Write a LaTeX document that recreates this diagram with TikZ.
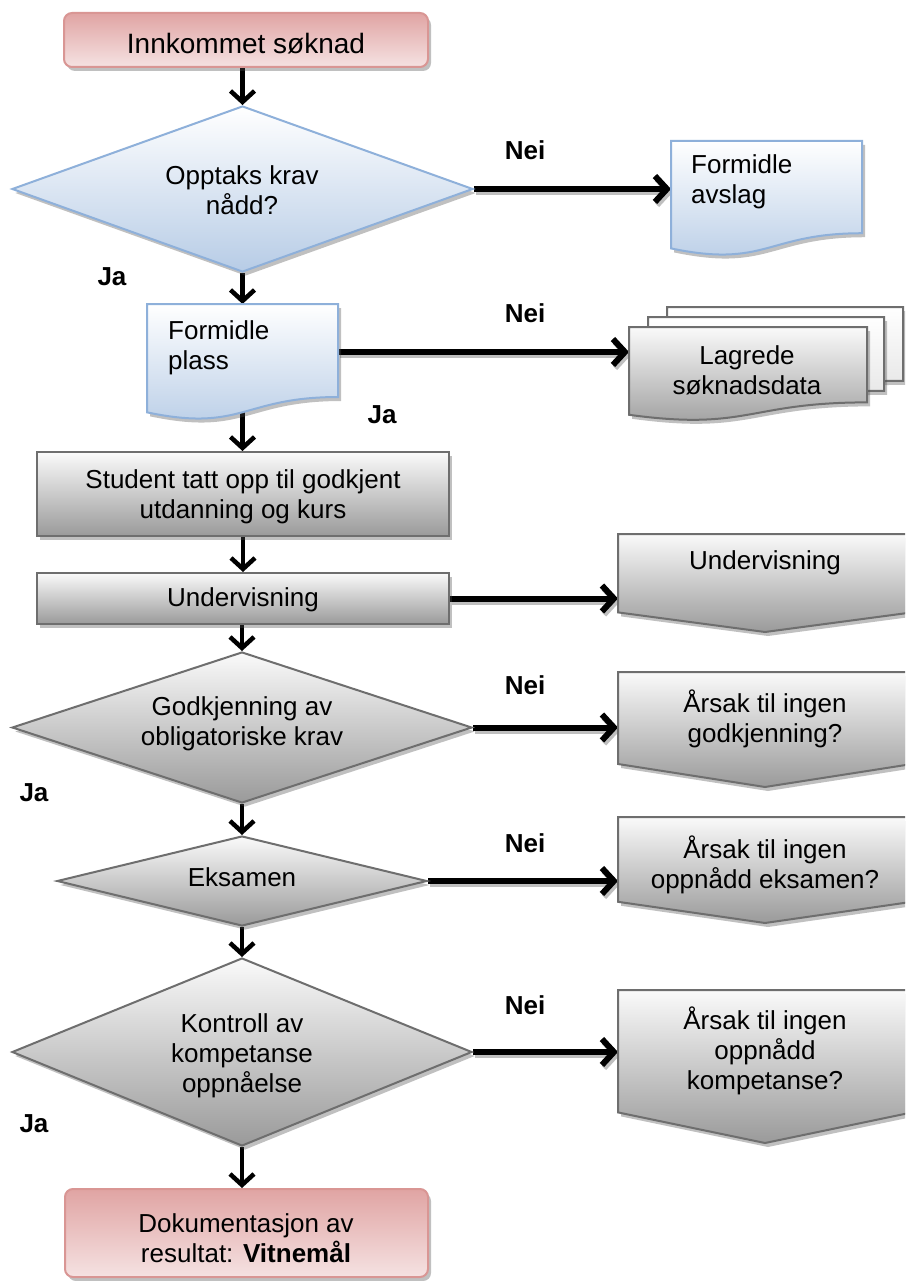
\documentclass[tikz,border=0pt]{standalone}
\usepackage{fontspec}
\setmainfont{Liberation Sans}
\usetikzlibrary{shapes.geometric,arrows.meta,shadows,calc}
\pgfdeclarelayer{bg}
\pgfsetlayers{bg,main}
\definecolor{pinkB}{HTML}{D99694}
\definecolor{pinkT}{HTML}{E0A4A3}
\definecolor{pinkL}{HTML}{F5E2E2}
\definecolor{blueB}{HTML}{8EB0DA}
\definecolor{blueL}{HTML}{B7CCE6}
\definecolor{grayB}{HTML}{6E6E6E}
\definecolor{grayD}{HTML}{9A9A9A}
\definecolor{grayT}{HTML}{FAFAFA}
% document shape: style, x, y, w, h
\newcommand\mydoc[5]{%
  \path[#1] (#2,#3) -- ++(#4,0) -- ++(0,{0.802*#5})
    .. controls +({-0.5*#4},0) and +({0.5*#4},{0.1735*#5}) .. (#2,{#3+0.934*#5}) -- cycle;}
% off-page connector: style, x, y, w, h
\newcommand\myoff[5]{%
  \path[#1] (#2,#3) -- ++(#4,0) -- ++(0,{0.8*#5}) -- ++({-0.5*#4},{0.2*#5}) -- ++({-0.5*#4},{-0.2*#5}) -- cycle;}
\begin{document}
\begin{tikzpicture}[x=1pt,y=-1pt,
  shadowed/.style={drop shadow={shadow xshift=3pt,shadow yshift=-4pt,opacity=.35,fill=black!70}},
  termshape/.style={rectangle, rounded corners=8pt, draw=pinkB, line width=2pt, top color=pinkT, bottom color=pinkL, shadowed, inner sep=0pt},
  blueshape/.style={draw=blueB, line width=2pt, top color=white, bottom color=blueL, shadowed},
  grayshape/.style={draw=grayB, line width=2pt, top color=grayT, bottom color=grayD, shadowed},
  backdoc/.style={draw=grayB, line width=2pt, top color=white, bottom color=black!12, shadowed},
  box/.style={rectangle, inner sep=0pt, outer sep=0pt},
  txt/.style={font=\fontsize{26}{30}\selectfont, align=center, inner sep=0pt},
  lbl/.style={font=\fontsize{26}{30}\selectfont\bfseries, inner sep=0pt},
  vconn/.style={line width=4.5pt, -{Straight Barb[length=11pt,width=24pt]}},
  hconn/.style={line width=6pt, -{Straight Barb[length=12pt,width=26pt]},
    preaction={draw=black, opacity=.25, line width=6pt, -{Straight Barb[length=12pt,width=26pt]},
      transform canvas={xshift=2pt,yshift=-3pt}}}
]
\path[use as bounding box, clip] (0,0) rectangle (905,1281);

% start terminal
\node[termshape, minimum width=364pt, minimum height=54pt] (term1) at (246,40) {};
\node[txt, font=\fontsize{28}{32}\selectfont] (t1) at (246,44) {Innkommet søknad};

% decision 1
\node[diamond, blueshape, minimum width=461pt, minimum height=166pt, inner sep=0pt] (d1) at (242.5,189) {};
\node[txt] (td1) at (242,190) {Opptaks krav\\nådd?};

% Formidle avslag
\mydoc{blueshape}{671}{141}{191}{115}
\node[box, minimum width=191pt, minimum height=100pt] (avslag) at (766.5,191) {};
\node[txt, anchor=west, align=left] (tavslag) at (691,182) {Formidle\\avslag};

% Formidle plass
\mydoc{blueshape}{147}{304}{191}{116}
\node[box, minimum width=191pt, minimum height=96pt] (plass) at (242.5,352) {};
\node[txt, anchor=west, align=left] (tplass) at (168,348) {Formidle\\plass};

% stacked documents
\mydoc{backdoc}{667}{307}{236}{92}
\mydoc{backdoc}{648}{317}{236}{92}
\mydoc{grayshape}{629}{327}{238}{94}
\node[box, minimum width=238pt, minimum height=50pt] (stack) at (748,352) {};
\node[txt] (tstack) at (747,370) {Lagrede\\søknadsdata};

% Student box
\node[rectangle, grayshape, minimum width=412pt, minimum height=84pt, inner sep=0pt] (student) at (243,494) {};
\node[txt] (tstudent) at (243,497) {Student tatt opp til godkjent\\utdanning og kurs};

% Undervisning box
\node[rectangle, grayshape, minimum width=412pt, minimum height=51pt, inner sep=0pt] (underv) at (243,598.5) {};
\node[txt] (tunderv) at (243,600) {Undervisning};

% off-page 1
\myoff{grayshape}{618}{534}{294}{98}
\node[box, minimum width=294pt, minimum height=78pt] (off1) at (765,573) {};
\node[txt] (toff1) at (765,563) {Undervisning};

% decision 2
\node[diamond, grayshape, minimum width=460pt, minimum height=151pt, inner sep=0pt] (d2) at (242,727.5) {};
\node[txt] (td2) at (242,724) {Godkjenning av\\obligatoriske krav};

% off-page 2
\myoff{grayshape}{618}{672}{294}{115}
\node[box, minimum width=294pt, minimum height=92pt] (off2) at (765,718) {};
\node[txt] (toff2) at (765,719) {Årsak til ingen\\godkjenning?};

% decision 3
\node[diamond, grayshape, minimum width=370pt, minimum height=90pt, inner sep=0pt] (d3) at (242,881) {};
\node[txt] (td3) at (242,877) {Eksamen};

% off-page 3
\myoff{grayshape}{618}{817}{294}{106}
\node[box, minimum width=294pt, minimum height=85pt] (off3) at (765,859.5) {};
\node[txt] (toff3) at (765,865) {Årsak til ingen\\oppnådd eksamen?};

% decision 4
\node[diamond, grayshape, minimum width=460pt, minimum height=188pt, inner sep=0pt] (d4) at (242,1052) {};
\node[txt] (td4) at (242,1056) {Kontroll av\\kompetanse\\oppnåelse};

% off-page 4
\myoff{grayshape}{618}{990}{294}{153}
\node[box, minimum width=294pt, minimum height=122pt] (off4) at (765,1051) {};
\node[txt] (toff4) at (765,1051) {Årsak til ingen\\oppnådd\\kompetanse?};

% end terminal
\node[termshape, minimum width=363pt, minimum height=88pt] (term2) at (246.5,1233) {};
\node[txt] (tterm2) at (246,1238) {Dokumentasjon av\\resultat: \textbf{Vitnemål}};

% labels
\node[lbl] (nei1) at (525,150) {Nei};
\node[lbl] (nei2) at (525,313) {Nei};
\node[lbl] (nei3) at (525,685) {Nei};
\node[lbl] (nei4) at (525,843) {Nei};
\node[lbl] (nei5) at (525,1005) {Nei};
\node[lbl] (ja1) at (112,277) {Ja};
\node[lbl] (ja2) at (382,415) {Ja};
\node[lbl] (ja3) at (34,793) {Ja};
\node[lbl] (ja4) at (34,1124) {Ja};

% connectors (beneath the shapes)
\begin{pgfonlayer}{bg}
\fill[white] (0,0) rectangle (905,1281);
\draw[vconn] (d1.north |- term1.south) -- (d1.north);
\draw[vconn] (d1.south) -- (d1.south |- plass.north);
\draw[vconn] (plass.south) -- (plass.south |- student.north);
\draw[vconn] (student.south) -- (student.south |- underv.north);
\draw[vconn] (underv.south -| d2.north) -- (d2.north);
\draw[vconn] (d2.south) -- (d3.north);
\draw[vconn] (d3.south) -- (d4.north);
\draw[vconn] (d4.south) -- (d4.south |- term2.north);
\draw[hconn] (d1.east) -- (d1.east -| avslag.west);
\draw[hconn] (plass.east) -- (plass.east -| stack.west);
\draw[hconn] (underv.east) -- (underv.east -| off1.west);
\draw[hconn] (d2.east) -- (d2.east -| off2.west);
\draw[hconn] (d3.east) -- (d3.east -| off3.west);
\draw[hconn] (d4.east) -- (d4.east -| off4.west);
\end{pgfonlayer}
\end{tikzpicture}
\end{document}
